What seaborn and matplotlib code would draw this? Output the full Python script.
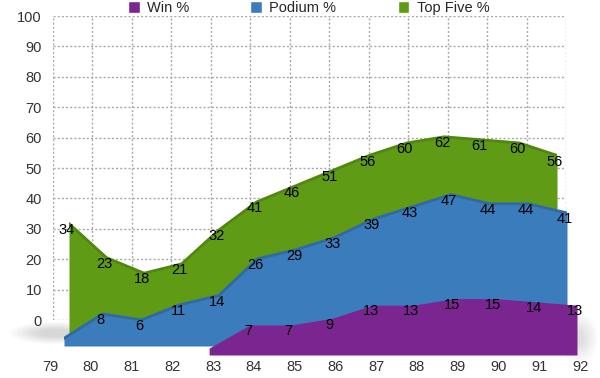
import numpy as np
import pandas as pd
import matplotlib
matplotlib.use("Agg")
import matplotlib.pyplot as plt
import seaborn as sns
from matplotlib.patches import Patch, Ellipse

# data
years     = [79, 80, 81, 82, 83, 84, 85, 86, 87, 88, 89, 90, 91, 92]
win_pct   = [np.nan, np.nan, np.nan, np.nan, 0, 7, 7, 9, 13, 13, 15, 15, 14, 13]
podium    = [0, 8, 6, 11, 14, 26, 29, 33, 39, 43, 47, 44, 44, 41]
top_five  = [34, 23, 18, 21, 32, 41, 46, 51, 56, 60, 62, 61, 60, 56]
y_ticks   = [0, 10, 20, 30, 40, 50, 60, 70, 80, 90, 100]

PURPLE = "#7b2590"
BLUE   = "#3b7cbd"
GREEN  = "#5f9b14"

W, H = 600, 378

sns.set_theme(style="white")
plt.rcParams['font.family'] = ['Liberation Sans', 'DejaVu Sans']

fig = plt.figure(figsize=(W / 100, H / 100), dpi=100)
fig.patch.set_facecolor("white")

# soft floor shadows behind the areas (pixel space background axes)
bg = fig.add_axes([0, 0, 1, 1])
bg.set_xlim(0, W)
bg.set_ylim(H, 0)
bg.axis("off")
for k in range(8):
    bg.add_patch(Ellipse((55, 333), 90 - 8 * k, 22 - 2 * k,
                         color="#000000", alpha=0.018, lw=0))
    bg.add_patch(Ellipse((578, 338), 40 - 4 * k, 50 - 5 * k,
                         color="#000000", alpha=0.014, lw=0))


def layer_axes(x0_px, x1_px, ylo, yhi, ylo_px, yhi_px):
    # one depth layer of the fake-3D chart, placed in pixel space
    ax = fig.add_axes([x0_px / W, 1 - ylo_px / H,
                       (x1_px - x0_px) / W, (ylo_px - yhi_px) / H])
    ax.set_xlim(79, 92)
    ax.set_ylim(ylo, yhi)
    ax.patch.set_alpha(0)
    for s in ax.spines.values():
        s.set_visible(False)
    ax.set_xticks([])
    ax.set_yticks([])
    return ax


# back wall with dotted grid
wall = layer_axes(53, 566, 0, 100, 320, 16)
wall.set_yticks(y_ticks)
wall.set_yticklabels([str(v) for v in y_ticks], fontsize=10.5, color="#333333")
wall.tick_params(axis="y", length=0, pad=8)
for v in y_ticks:
    wall.axhline(v, color="#a8a8a8", lw=1, ls=(0, (1.5, 1.5)), zorder=0)
for yr in years:
    wall.axvline(yr, color="#a8a8a8", lw=1, ls=(0, (1.5, 1.5)), zorder=0)


def draw_area(ax, values, color, edge, lo):
    df = pd.DataFrame({"year": years, "value": values}).dropna()
    ax.fill_between(df["year"], df["value"], lo, color=color, lw=0, zorder=2)
    if edge is not None:
        sns.lineplot(data=df, x="year", y="value", ax=ax, color=edge,
                     lw=2, zorder=3, legend=False)
        ax.set_xlabel("")
        ax.set_ylabel("")
    for x, v in zip(df["year"], df["value"]):
        if v > 0:
            ax.annotate(f"{v:g}", (x, v), xytext=(-1.5, -4.5),
                        textcoords="offset points", ha="center", va="center",
                        fontsize=10.5, color="black", zorder=5)


green_ax = layer_axes(69, 557, -1.3, 100, 333, 19)
draw_area(green_ax, top_five, GREEN, "#51870f", -1.3)

blue_ax = layer_axes(64, 567, -2.5, 100, 346, 32.5)
draw_area(blue_ax, podium, BLUE, "#3169a5", -2.5)

purple_ax = layer_axes(45.6, 577, -2.1, 100, 355, 18)
draw_area(purple_ax, win_pct, PURPLE, None, -2.1)

# front x labels
front = layer_axes(50, 580, 0, 1, 357, 356)
front.set_xticks(years)
front.set_xticklabels([str(y) for y in years], fontsize=10.5, color="#333333")
front.tick_params(axis="x", length=0, pad=2)

# legend
handles = [Patch(facecolor=PURPLE, label="Win %"),
           Patch(facecolor=BLUE, label="Podium %"),
           Patch(facecolor=GREEN, label="Top Five %")]
fig.legend(handles=handles, loc="upper left", bbox_to_anchor=(128 / W, 1 - 1 / H),
           ncol=3, frameon=False, fontsize=10.5, borderpad=0, borderaxespad=0,
           handlelength=0.8, handleheight=0.8, handletextpad=0.5,
           columnspacing=4.2)

fig.savefig("out.png", dpi=100)
